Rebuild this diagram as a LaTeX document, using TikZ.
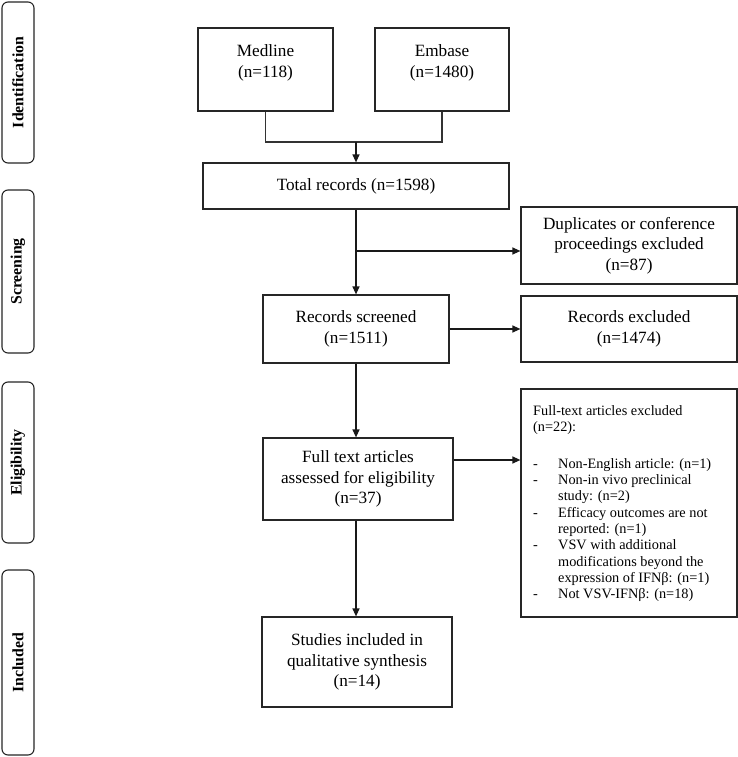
\documentclass[tikz,border=0pt]{standalone}
\usepackage{fontspec}
\setmainfont{Liberation Serif}
\usetikzlibrary{arrows.meta,positioning}
\begin{document}
\begin{tikzpicture}[x=1pt,y=-1pt,
  box/.style={draw=black!85,line width=1.2pt,inner sep=0pt,align=center,
    font=\fontsize{17.2}{20.5}\selectfont},
  side/.style={draw=black!85,line width=1.1pt,rounded corners=6pt,minimum width=32pt,
    inner sep=0pt},
  sidetext/.style={rotate=90,font=\fontsize{15.8}{18}\selectfont\bfseries},
  arr/.style={line width=1.2pt,draw=black!90,-{Triangle[length=8pt,width=7pt]}},
  ln/.style={line width=1.2pt,draw=black!80}]
\useasboundingbox (0,0) rectangle (738,757);
\fill[white] (0,0) rectangle (738,757);
% side labels
\node[side,minimum height=161pt] (s1) at (18,82.5) {};
\node[sidetext] (s1t) at (s1.center) {Identification};
\node[side,minimum height=163pt] (s2) at (18,271.5) {};
\node[sidetext] (s2t) at (s2.center) {Screening};
\node[side,minimum height=161pt] (s3) at (18,462.5) {};
\node[sidetext] (s3t) at (s3.center) {Eligibility};
\node[side,minimum height=185pt] (s4) at (18,662.5) {};
\node[sidetext] (s4t) at (s4.center) {Included};
% boxes
\node[box,minimum width=135pt,minimum height=83pt] (med) at (265.5,69.5) {};
\node[box,draw=none] (medt) at (265.5,63) {Medline\\(n=118)};
\node[box,minimum width=134pt,minimum height=83pt] (emb) at (442,69.5) {};
\node[box,draw=none] (embt) at (442,63) {Embase\\(n=1480)};
\node[box,minimum width=306pt,minimum height=46pt] (tot) at (356,186) {Total records (n=1598)};
\node[box,minimum width=216pt,minimum height=77pt] (dup) at (629,245.5) {Duplicates or conference\\proceedings excluded\\(n=87)};
\node[box,minimum width=186pt,minimum height=68pt] (scr) at (356,329) {Records screened\\(n=1511)};
\node[box,minimum width=216pt,minimum height=66pt] (rex) at (629,329) {Records excluded\\(n=1474)};
\node[box,minimum width=190pt,minimum height=82pt] (ft) at (358,479) {Full text articles\\assessed for eligibility\\(n=37)};
\node[box,minimum width=190pt,minimum height=90pt] (stu) at (357,662) {Studies included in\\qualitative synthesis\\(n=14)};
\node[box,minimum width=216pt,minimum height=228pt] (fex) at (629,503) {};
\node[anchor=north west,inner sep=0pt,align=left,font=\fontsize{14.3}{16.3}\selectfont] (fext) at (533,405.5) {%
Full-text articles excluded\\
(n=22):\\[21pt]
\begin{tabular}{@{}p{25pt}@{}l@{}}
- & Non-English article: (n=1)\\
- & Non-in vivo preclinical\\
   & study: (n=2)\\
- & Efficacy outcomes are not\\
   & reported: (n=1)\\
- & VSV with additional\\
   & modifications beyond the\\
   & expression of IFNβ: (n=1)\\
- & Not VSV-IFNβ: (n=18)
\end{tabular}};
% connectors
\coordinate (j) at (356,142);
\draw[ln] (med.south) |- (j) -| (emb.south);
\draw[arr] (j) -- (tot.north);
\draw[arr] (tot.south) -- (scr.north);
\coordinate (b) at (356,251);
\draw[arr] (b) -- (b -| dup.west);
\draw[arr] (scr.east) -- (rex.west);
\draw[arr] (scr.south) -- (scr.south |- ft.north);
\draw[arr] ([yshift=19pt]ft.east) -- ([yshift=19pt]ft.east -| fex.west);
\draw[arr] (scr.south |- ft.south) -- (scr.south |- stu.north);
\end{tikzpicture}
\end{document}
